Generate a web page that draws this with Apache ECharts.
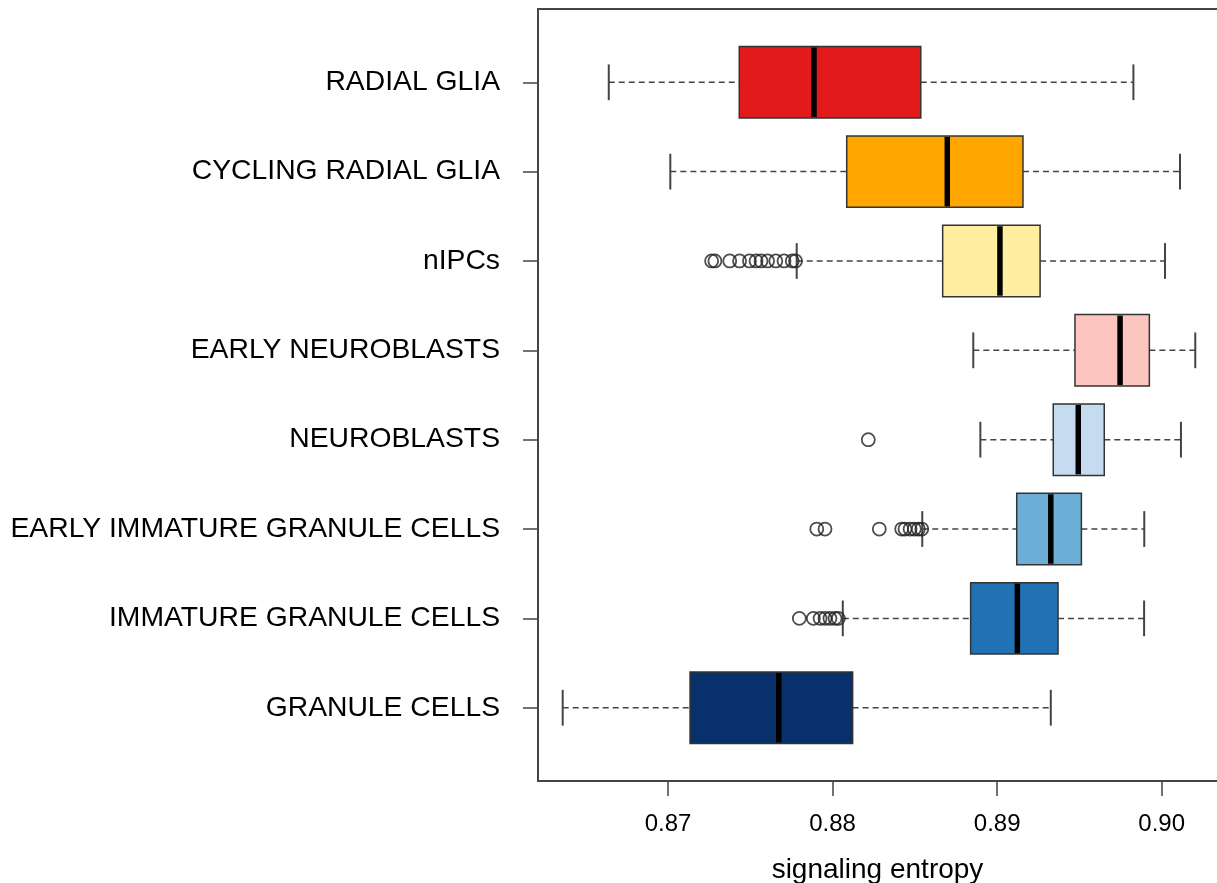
<!DOCTYPE html>
<html>
<head>
<meta charset="utf-8">
<script src="https://cdn.jsdelivr.net/npm/echarts@6/dist/echarts.min.js"></script>
<style>html,body{margin:0;padding:0;background:#fff}#c{width:1217px;height:883px}</style>
</head>
<body>
<div id="c"></div>
<script>
// categories, top to bottom
const categories = ['RADIAL GLIA','CYCLING RADIAL GLIA','nIPCs','EARLY NEUROBLASTS','NEUROBLASTS','EARLY IMMATURE GRANULE CELLS','IMMATURE GRANULE CELLS','GRANULE CELLS'];
const colors = ['#E31A1C','#FFA500','#FFEDA0','#FCC5C0','#C6DBEF','#6BAED6','#2171B5','#08306B'];
// [lower whisker, Q1, median, Q3, upper whisker]
const boxStats = [
  [0.86640, 0.87433, 0.87887, 0.88536, 0.89828],
  [0.87014, 0.88086, 0.88697, 0.89157, 0.90111],
  [0.87782, 0.88669, 0.89017, 0.89261, 0.90020],
  [0.88855, 0.89473, 0.89747, 0.89925, 0.90204],
  [0.88898, 0.89341, 0.89493, 0.89651, 0.90117],
  [0.88545, 0.89119, 0.89326, 0.89512, 0.89894],
  [0.88062, 0.88839, 0.89123, 0.89370, 0.89893],
  [0.86360, 0.87134, 0.87673, 0.88122, 0.89326]
];
// outliers per category (same order)
const outliers = [
  [],
  [],
  [0.87265, 0.87285, 0.87375, 0.87435, 0.87495, 0.87535, 0.87565, 0.87605, 0.87655, 0.87705, 0.87755, 0.87775],
  [],
  [0.88217],
  [0.87904, 0.87954, 0.88284, 0.88420, 0.88440, 0.88471, 0.88497, 0.88521, 0.88542],
  [0.87798, 0.87883, 0.87924, 0.87954, 0.87984, 0.88015, 0.88035],
  []
];
const xTicks = [0.87, 0.88, 0.89, 0.90];
const xTitle = 'signaling entropy';

const n = categories.length;
const pos = i => n - i; // top category at highest position
const boxData = boxStats.map((s, i) => [pos(i)].concat(s).concat([i]));
const outData = [];
outliers.forEach((arr, i) => arr.forEach(v => outData.push([v, pos(i)])));

const FONT = 'Liberation Sans, Arial, sans-serif';
const frame = { show: true, lineStyle: { color: '#444', width: 2 } };
const chart = echarts.init(document.getElementById('c'));
chart.setOption({
  animation: false,
  backgroundColor: '#fff',
  grid: { left: 538, top: 9, width: 679, height: 772, show: false, containLabel: false, outerBoundsMode: 'none' },
  xAxis: [{
    type: 'value', min: 0.8621, max: 0.90336,
    axisLine: frame,
    splitLine: { show: false },
    axisTick: { show: true, length: 15, lineStyle: { color: '#444', width: 1.5 }, customValues: xTicks },
    axisLabel: { customValues: xTicks, formatter: v => v.toFixed(2), fontFamily: FONT, fontSize: 24, color: '#000', margin: 31 },
    name: xTitle, nameLocation: 'middle', nameGap: 75,
    nameTextStyle: { fontFamily: FONT, fontSize: 28, color: '#000' }
  }, {
    type: 'value', position: 'top', min: 0.8621, max: 0.90336,
    axisLine: frame, axisTick: { show: false }, axisLabel: { show: false }, splitLine: { show: false }
  }],
  yAxis: {
    type: 'value', min: 0.18, max: 8.82,
    axisLine: frame,
    splitLine: { show: false },
    axisTick: { show: true, length: 15, lineStyle: { color: '#444', width: 1.5 }, customValues: categories.map((c, i) => pos(i)) },
    axisLabel: { customValues: categories.map((c, i) => pos(i)), formatter: v => categories[n - Math.round(v)], fontFamily: FONT, fontSize: 28.3, color: '#000', margin: 38 }
  },
  series: [
    {
      type: 'custom',
      data: boxData,
      encode: { x: [1, 2, 3, 4, 5], y: 0 },
      renderItem: function (params, api) {
        const y = api.value(0);
        const lo = api.value(1), q1 = api.value(2), md = api.value(3), q3 = api.value(4), hi = api.value(5);
        const ci = api.value(6);
        const c = (x, yy) => api.coord([x, yy]);
        const pLo = c(lo, y), pQ1 = c(q1, y), pMd = c(md, y), pQ3 = c(q3, y), pHi = c(hi, y);
        const top = c(q1, y + 0.4)[1], bot = c(q1, y - 0.4)[1];
        const ct = c(lo, y + 0.2)[1], cb = c(lo, y - 0.2)[1];
        const wStyle = { stroke: '#444', lineWidth: 1.5, lineDash: [6, 4] };
        const capStyle = { stroke: '#444', lineWidth: 2 };
        return {
          type: 'group',
          children: [
            { type: 'line', shape: { x1: pLo[0], y1: pLo[1], x2: pQ1[0], y2: pQ1[1] }, style: wStyle },
            { type: 'line', shape: { x1: pQ3[0], y1: pQ3[1], x2: pHi[0], y2: pHi[1] }, style: wStyle },
            { type: 'line', shape: { x1: pLo[0], y1: ct, x2: pLo[0], y2: cb }, style: capStyle },
            { type: 'line', shape: { x1: pHi[0], y1: ct, x2: pHi[0], y2: cb }, style: capStyle },
            { type: 'rect', shape: { x: pQ1[0], y: top, width: pQ3[0] - pQ1[0], height: bot - top }, style: { fill: colors[ci], stroke: '#333', lineWidth: 1.5 } },
            { type: 'line', shape: { x1: pMd[0], y1: top + 1, x2: pMd[0], y2: bot - 1 }, style: { stroke: '#000', lineWidth: 5.5 } }
          ]
        };
      }
    },
    {
      type: 'scatter',
      data: outData,
      symbol: 'circle',
      symbolSize: 13,
      itemStyle: { color: 'rgba(0,0,0,0)', borderColor: '#222', borderWidth: 1.8 }
    }
  ]
});
</script>
</body>
</html>
